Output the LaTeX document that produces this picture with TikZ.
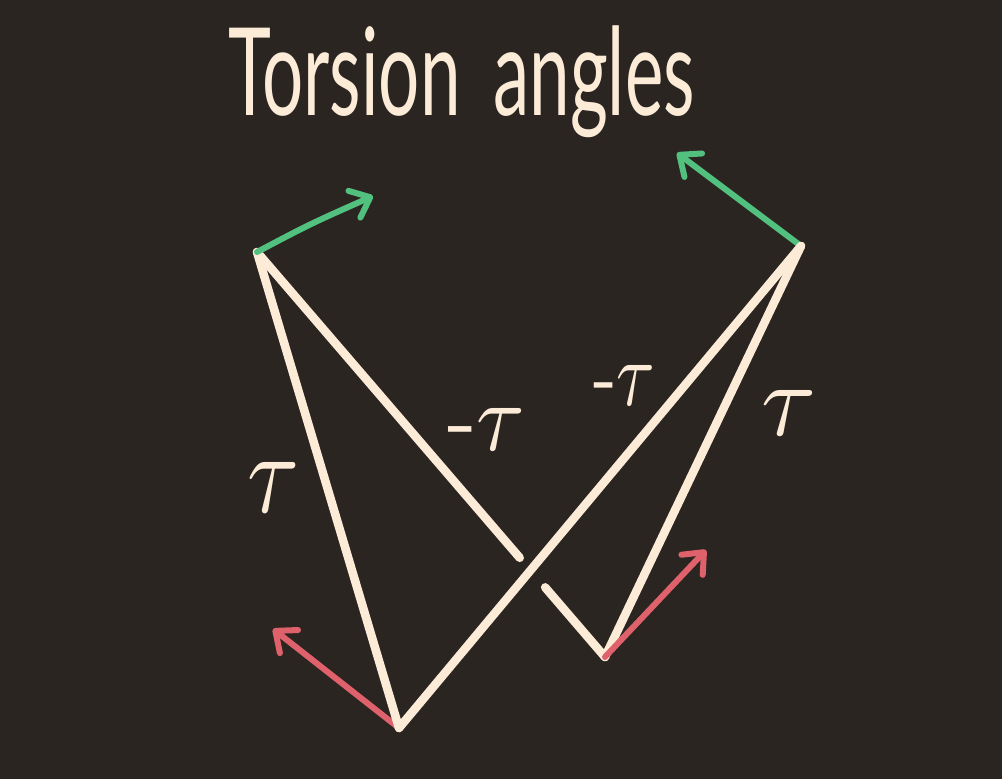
\documentclass[tikz,border=0pt]{standalone}
\usepackage{fontspec}
\newfontfamily\titlefont{Lato}
\usetikzlibrary{arrows.meta,calc}
\definecolor{bg}{HTML}{2A2521}
\definecolor{cream}{HTML}{FCEBD7}
\definecolor{mint}{HTML}{52C07F}
\definecolor{coral}{HTML}{DE616B}
\begin{document}
\begin{tikzpicture}[x=0.75pt,y=-0.75pt,
  bond/.style={draw=cream,line width=6.4pt,line cap=round},
  vec/.style={line width=4.5pt,line cap=round,line join=round,
    -{Straight Barb[length=13pt,width=22pt,line cap=round,line join=round]}},
  lab/.style={text=cream,inner sep=0pt}]
\fill[bg] (0,0) rectangle (1002,779);
\useasboundingbox (0,0) rectangle (1002,779);

\node[lab,anchor=north west] (title) at (228,25)
  {\resizebox*{350pt}{84pt}{\titlefont Torsion\hspace{0.45em}angles}};

\coordinate (A) at (257,252);
\coordinate (B) at (399,728);
\coordinate (C) at (801,246);
\coordinate (D) at (605,657);

\coordinate (gA) at (373,196);
\coordinate (gC) at (677,153);
\coordinate (rB) at (273,629);
\coordinate (rD) at (706,550);

\draw[vec,draw=coral] (B) -- (rB);
\draw[vec,draw=mint] (C) -- (gC);

\draw[bond] (A) -- (B);
\draw[bond] (A) -- ($(A)!0.755!(D)$);
\draw[bond] ($(A)!0.828!(D)$) -- (D);
\draw[bond] (B) -- (C);
\draw[bond] (C) -- (D);

\draw[vec,draw=mint] (A) .. controls (310,224) .. (gA);
\draw[vec,draw=coral] (D) -- (rD);

\node[lab] (t1) at (274,487) {\resizebox*{39pt}{37.5pt}{$\tau$}};
\node[lab] (t2) at (486,429) {\resizebox*{58.5pt}{31.5pt}{-$\tau$}};
\node[lab] (t3) at (624,385) {\resizebox*{46.5pt}{30pt}{-$\tau$}};
\node[lab] (t4) at (789.5,412.5) {\resizebox*{41.25pt}{33.75pt}{$\tau$}};
\end{tikzpicture}
\end{document}
